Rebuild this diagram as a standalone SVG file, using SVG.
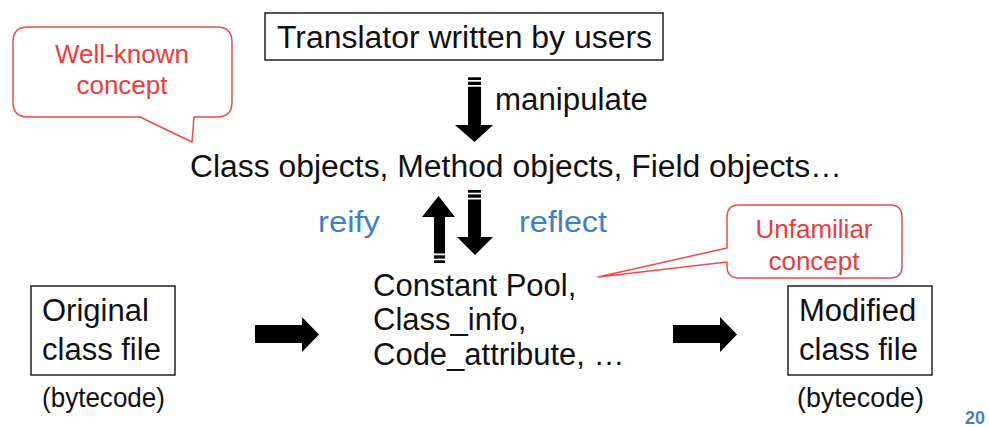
<svg xmlns="http://www.w3.org/2000/svg" width="989" height="427" viewBox="0 0 989 427">
<style>
.t{font-family:"Liberation Sans",Arial,sans-serif;fill:#111;font-size:31px}
.b{font-family:"Liberation Sans",Arial,sans-serif;fill:#3d7fcc;font-size:30px}
.r{font-family:"Liberation Sans",Arial,sans-serif;fill:#f03a3a;font-size:26px;text-anchor:middle}
.s{font-family:"Liberation Sans",Arial,sans-serif;fill:#111;font-size:28px}
.box{fill:#fff;stroke:#222;stroke-width:1.5}
.call{fill:#fff;stroke:#f04a4a;stroke-width:1.5;stroke-linejoin:round}
.arr{fill:#000}
</style>
<rect width="989" height="427" fill="#fff"/>
<g id="translator">
<rect class="box" x="265" y="13" width="398" height="47"/>
<text class="t" x="277" y="48" textLength="375" lengthAdjust="spacingAndGlyphs">Translator written by users</text>
</g>
<g id="wellknown">
<path class="call" d="M28,27 H217 Q232,27 232,42 V102 Q232,117 217,117 H194 L192,142 L140,117 H28 Q13,117 13,102 V42 Q13,27 28,27 Z"/>
<text class="r" x="122" y="63">Well-known</text>
<text class="r" x="122" y="94">concept</text>
</g>
<g id="objects">
<text class="t" x="190" y="177" textLength="652" lengthAdjust="spacingAndGlyphs">Class objects, Method objects, Field objects…</text>
</g>
<g id="constpool">
<text class="t" x="373" y="296">Constant Pool,</text>
<text class="t" x="373" y="330">Class_info,</text>
<text class="t" x="373" y="365">Code_attribute, …</text>
</g>
<g id="unfamiliar">
<path class="call" d="M739,205 H890 Q902,205 902,217 V266 Q902,278 890,278 H739 Q727,278 727,266 V262 L598,277 L727,248 V217 Q727,205 739,205 Z"/>
<text class="r" x="814" y="238">Unfamiliar</text>
<text class="r" x="814" y="270">concept</text>
</g>
<g id="original">
<rect class="box" x="31" y="286" width="144" height="89"/>
<text class="t" x="42" y="321">Original</text>
<text class="t" x="42" y="360">class file</text>
<text class="s" x="42" y="407" textLength="123" lengthAdjust="spacingAndGlyphs">(bytecode)</text>
</g>
<g id="modified">
<rect class="box" x="788" y="286" width="144" height="89"/>
<text class="t" x="799" y="321">Modified</text>
<text class="t" x="799" y="360">class file</text>
<text class="s" x="797" y="407" textLength="127" lengthAdjust="spacingAndGlyphs">(bytecode)</text>
</g>
<g id="connectors">
<rect class="arr" x="468" y="77.3" width="13" height="2.7"/>
<rect class="arr" x="468" y="81.7" width="13" height="3.3"/>
<path class="arr" d="M468,86.7 H481 V125 H493 L474.5,142 L455,125 H468 Z"/>
<text class="t" x="495" y="110" textLength="153" lengthAdjust="spacingAndGlyphs">manipulate</text>
<path class="arr" d="M438.5,196 L455,217 H445 V253.6 H434 V217 H422 Z"/>
<rect class="arr" x="434" y="255.3" width="11" height="3.3"/>
<rect class="arr" x="434" y="260.3" width="11" height="2.7"/>
<text class="b" x="318" y="232" textLength="62" lengthAdjust="spacingAndGlyphs">reify</text>
<rect class="arr" x="468" y="190" width="13" height="2.7"/>
<rect class="arr" x="468" y="194.4" width="13" height="3.3"/>
<path class="arr" d="M468,199.4 H481 V237 H493 L475,255 L457,237 H468 Z"/>
<text class="b" x="519" y="232" textLength="88" lengthAdjust="spacingAndGlyphs">reflect</text>
<path class="arr" d="M255,325 H302 V317 L319,334.5 L302,352 V343 H255 Z"/>
<path class="arr" d="M673,325 H720 V317 L737,334.5 L720,352 V343 H673 Z"/>
</g>
<text x="985" y="424" text-anchor="end" style="font-family:'Liberation Sans',Arial,sans-serif;font-weight:bold;font-size:18px;fill:#4a7ebf">20</text>
</svg>
